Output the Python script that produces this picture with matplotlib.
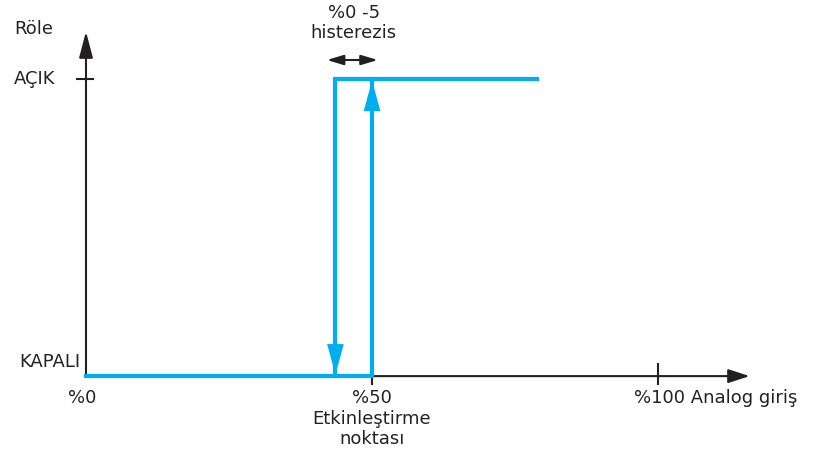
import matplotlib
matplotlib.use("Agg")
import matplotlib.pyplot as plt

# ---- data ----
x_tick_values = [50, 100]
x_tick_labels = ["%50", "%100 Analog giriş"]
state_values = [0, 1]
state_labels = ["KAPALI", "AÇIK"]
switch_on = 50.0        # Etkinleştirme noktası
switch_off = 43.6       # on - hysteresis
top_end = 78.9
on_path_x = [0, switch_on, switch_on]
on_path_y = [0, 0, 1]
off_path_x = [top_end, switch_off, switch_off]
off_path_y = [1, 1, 0]

plt.rcParams['font.family'] = ['DejaVu Sans']
BLUE = "#00AEEF"
BLACK = "#231f20"
TXT = "#222222"

fig = plt.figure(figsize=(8.16, 4.59), dpi=100)
ax = fig.add_axes([0, 0, 1, 1])
ax.set_xlim(-15.03, 127.6)
ax.set_ylim(-0.279, 1.266)
ax.axis("off")

# axes with arrows
ax.annotate("", xy=(116, 0), xytext=(0, 0),
            arrowprops=dict(arrowstyle="-|>,head_length=1.3,head_width=0.42",
                            mutation_scale=10, lw=1.5, color=BLACK,
                            shrinkA=0, shrinkB=0))
ax.annotate("", xy=(0, 1.16), xytext=(0, 0),
            arrowprops=dict(arrowstyle="-|>,head_length=1.6,head_width=0.42",
                            mutation_scale=10, lw=1.5, color=BLACK,
                            shrinkA=0, shrinkB=0))

# x ticks
for xv in x_tick_values:
    ax.plot([xv, xv], [-0.027, 0.04], color=BLACK, lw=1.5, zorder=2)
# AÇIK tick
ax.plot([-1.5, 1.2], [1, 1], color=BLACK, lw=1.5)

# blue step lines
ax.plot(on_path_x, on_path_y, color=BLUE, lw=3, solid_joinstyle="miter", zorder=3)
ax.plot(off_path_x, off_path_y, color=BLUE, lw=3, solid_joinstyle="miter", zorder=3)

head = dict(arrowstyle="-|>,head_length=2.2,head_width=0.6",
            mutation_scale=10, lw=0, color=BLUE, shrinkA=0, shrinkB=0)
ax.annotate("", xy=(switch_off, 0.005), xytext=(switch_off, 0.3), arrowprops=head, zorder=4)
ax.annotate("", xy=(switch_on, 0.995), xytext=(switch_on, 0.7), arrowprops=head, zorder=4)

# hysteresis double arrow
ax.annotate("", xy=(switch_on + 1.0, 1.064), xytext=(switch_off - 1.5, 1.064),
            arrowprops=dict(arrowstyle="<|-|>,head_length=1.0,head_width=0.3",
                            mutation_scale=10, lw=1.5, color=BLACK,
                            shrinkA=0, shrinkB=0))
ax.text((switch_on + switch_off) / 2, 1.19, "%0 -5\nhisterezis", ha="center",
        va="center", fontsize=13, color=TXT, linespacing=1.15)

# labels
fs = 13
ax.text(-12.6, 1.17, "Röle", ha="left", va="center", fontsize=fs, color=TXT)
ax.text(-12.6, 1.0, state_labels[1], ha="left", va="center", fontsize=fs, color=TXT)
ax.text(-0.9, 0.047, state_labels[0], ha="right", va="center", fontsize=fs, color=TXT)
ax.text(-0.6, -0.072, "%0", ha="center", va="center", fontsize=fs, color=TXT)
ax.text(50, -0.072, x_tick_labels[0], ha="center", va="center", fontsize=fs, color=TXT)
ax.text(50, -0.143, "Etkinleştirme", ha="center", va="center", fontsize=fs, color=TXT)
ax.text(50, -0.21, "noktası", ha="center", va="center", fontsize=fs, color=TXT)
ax.text(95.8, -0.072, x_tick_labels[1], ha="left", va="center", fontsize=fs, color=TXT)

fig.savefig("out.png", dpi=100)
